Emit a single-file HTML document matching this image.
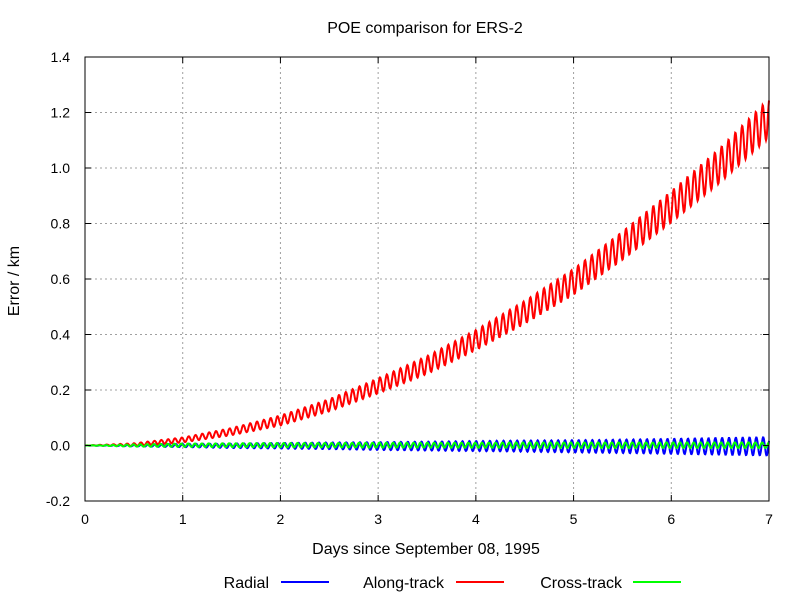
<!DOCTYPE html>
<html><head><meta charset="utf-8"><style>
body{margin:0;background:#fff;}
svg{display:block;font-family:"Liberation Sans",sans-serif;}
</style></head><body>
<svg id="chart" width="800" height="600">
<rect x="0" y="0" width="800" height="600" fill="#fff"/>
<g id="grid"></g>
<g id="series"></g>
<rect x="85" y="57" width="684" height="444" fill="none" stroke="#000" stroke-width="1"/>
<g id="ticks"></g>
<text x="425" y="33" text-anchor="middle" font-size="16">POE comparison for ERS-2</text>
<text x="426" y="554" text-anchor="middle" font-size="16">Days since September 08, 1995</text>
<text x="19" y="281" text-anchor="middle" font-size="16" transform="rotate(-90 19 281)">Error / km</text>
<g>
<g><text x="269" y="588" text-anchor="end" font-size="16">Radial</text><line x1="281" y1="582" x2="329" y2="582" stroke="#0000ff" stroke-width="2"/></g>
<g><text x="444" y="588" text-anchor="end" font-size="16">Along-track</text><line x1="456" y1="582" x2="504" y2="582" stroke="#ff0000" stroke-width="2"/></g>
<g><text x="622" y="588" text-anchor="end" font-size="16">Cross-track</text><line x1="633" y1="582" x2="681" y2="582" stroke="#00ff00" stroke-width="2"/></g>
</g>
</svg>
<script>
const xTicks=[0,1,2,3,4,5,6,7];
const yTicks=[-0.2,0,0.2,0.4,0.6,0.8,1.0,1.2,1.4];
const yTickLabels=["-0.2","0.0","0.2","0.4","0.6","0.8","1.0","1.2","1.4"];
const days=[0,0.5,1,1.5,2,2.5,3,3.5,4,4.5,5,5.5,6,6.5,7];
const alongMean=[0,0.003,0.02,0.05,0.09,0.145,0.215,0.29,0.38,0.48,0.59,0.72,0.86,1.01,1.18];
const alongAmp=[0,0.005,0.009,0.013,0.018,0.022,0.027,0.032,0.036,0.041,0.046,0.051,0.056,0.062,0.07];
const radialMean=[0,0,0,-0.001,-0.001,-0.001,-0.002,-0.002,-0.002,-0.002,-0.003,-0.003,-0.003,-0.003,-0.003];
const radialAmp=[0,0.003,0.006,0.008,0.01,0.012,0.014,0.016,0.018,0.02,0.022,0.024,0.027,0.03,0.033];
const crossMean=[0,0,0.001,0.001,0.001,0.001,0.001,0.001,0.001,0.001,0.001,0.001,0.001,0.001,0.001];
const crossAmp=[0,0.004,0.006,0.007,0.008,0.008,0.009,0.009,0.009,0.01,0.01,0.01,0.01,0.01,0.01];
const orbitsPerDay=14.3;
const X=d=>85+d/7*684;
const Y=v=>501-(v+0.2)/1.6*444;
const NS="http://www.w3.org/2000/svg";
const grid=document.getElementById('grid'),ticks=document.getElementById('ticks'),ser=document.getElementById('series');
function mk(tag,attrs,parent){const e=document.createElementNS(NS,tag);for(const k in attrs)e.setAttribute(k,attrs[k]);parent.appendChild(e);return e;}
xTicks.forEach(t=>{
 if(t>0&&t<7){const g=mk('line',{x1:X(t),x2:X(t),y1:57,y2:501,stroke:'#a0a0a0','stroke-dasharray':'2,3'},grid);
 
 }
 mk('line',{x1:X(t),x2:X(t),y1:501,y2:495,stroke:'#000'},ticks);
 mk('line',{x1:X(t),x2:X(t),y1:57,y2:63,stroke:'#000'},ticks);
 const l=mk('text',{x:X(t),y:524,'text-anchor':'middle','font-size':14},ticks);l.textContent=t;
 
 
});
yTicks.forEach((t,i)=>{
 if(i>0&&i<yTicks.length-1){const g=mk('line',{x1:85,x2:769,y1:Y(t),y2:Y(t),stroke:'#a0a0a0','stroke-dasharray':'2,3'},grid);
 
 }
 mk('line',{x1:85,x2:91,y1:Y(t),y2:Y(t),stroke:'#000'},ticks);
 mk('line',{x1:769,x2:763,y1:Y(t),y2:Y(t),stroke:'#000'},ticks);
 const l=mk('text',{x:70,y:Y(t)+5,'text-anchor':'end','font-size':14},ticks);l.textContent=yTickLabels[i];
 
 
});
function interp(arr,d){let i=Math.min(Math.floor(d/0.5),days.length-2);const f=(d-days[i])/0.5;return arr[i]+(arr[i+1]-arr[i])*f;}
function draw(mean,amp,color,name,phase){
 const pts=[];const N=1600;
 for(let k=0;k<=N;k++){const d=7*k/N;const v=interp(mean,d)+interp(amp,d)*Math.sin(2*Math.PI*orbitsPerDay*d+phase);pts.push(X(d).toFixed(1)+','+Y(v).toFixed(1));}
 const p=mk('polyline',{points:pts.join(' '),fill:'none',stroke:color,'stroke-width':2},ser);
 
 
}
draw(radialMean,radialAmp,'#0000ff','radial-line',0);
draw(alongMean,alongAmp,'#ff0000','along-track-line',0.5);
draw(crossMean,crossAmp,'#00ff00','cross-track-line',1);
</script>
</body></html>
